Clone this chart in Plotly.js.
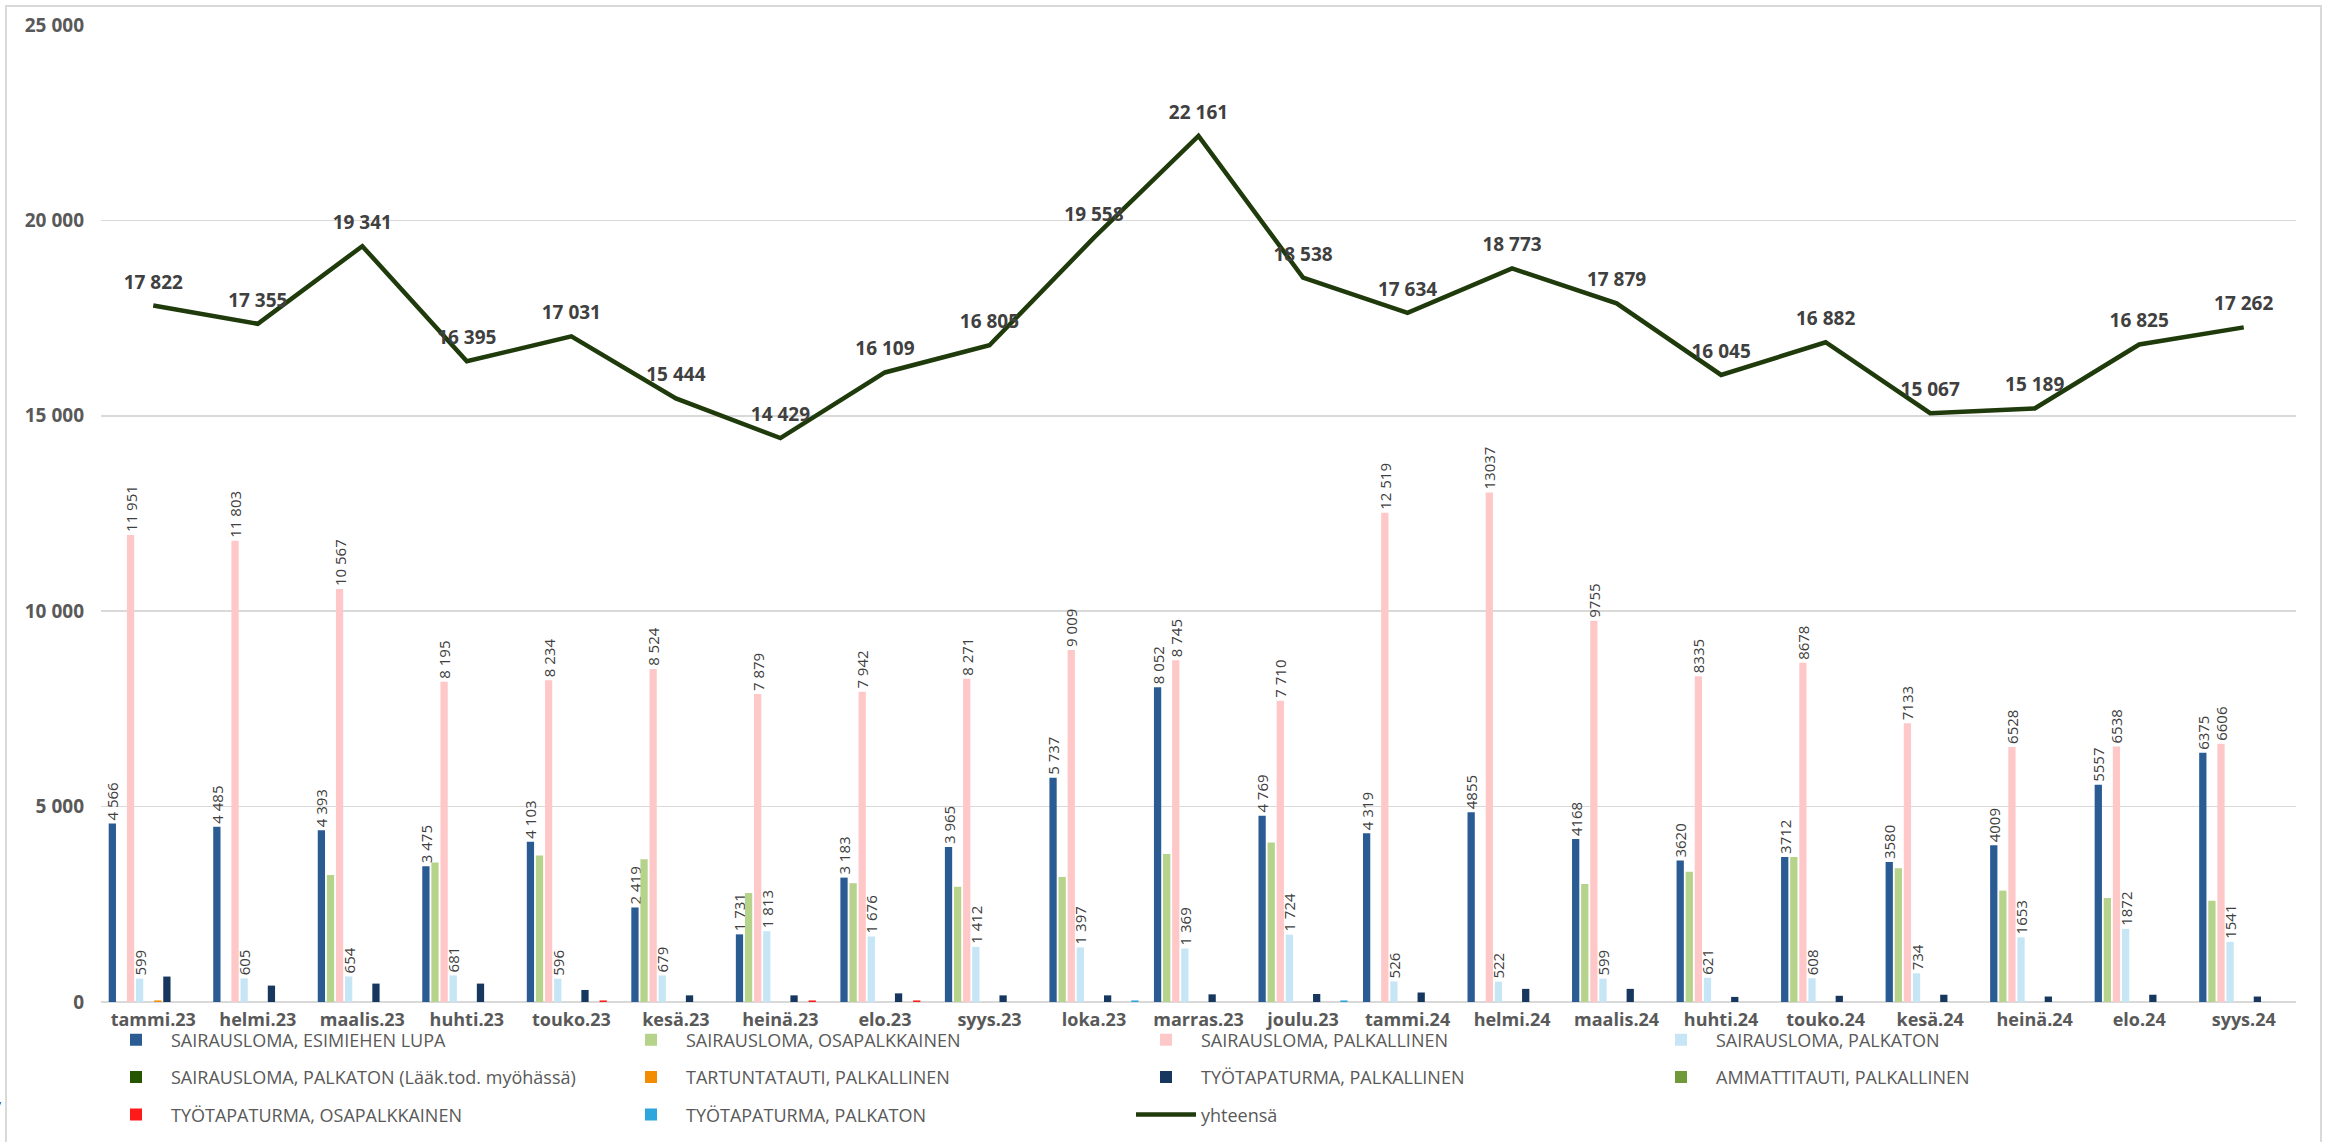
<!DOCTYPE html>
<html>
<head>
<meta charset="utf-8">
<script src="https://cdn.plot.ly/plotly-3.0.1.min.js"></script>
<style>
  html, body { margin: 0; padding: 0; background: #ffffff; }
  #wrap { position: relative; width: 2326px; height: 1142px; overflow: hidden; }
  #chart { width: 2326px; height: 1142px; }
  #frame { position: absolute; left: 5px; top: 5px; width: 2313px; height: 1160px;
           border: 2px solid #d9d9d9; pointer-events: none; }
</style>
</head>
<body>
<div id="wrap">
  <div id="chart"></div>
  <div id="frame"></div>
</div>
<script>
// ---- Data ----
const months = ['tammi.23','helmi.23','maalis.23','huhti.23','touko.23','kesä.23','heinä.23',
  'elo.23','syys.23','loka.23','marras.23','joulu.23','tammi.24','helmi.24','maalis.24',
  'huhti.24','touko.24','kesä.24','heinä.24','elo.24','syys.24'];

const esimiehenLupa = [4566,4485,4393,3475,4103,2419,1731,3183,3965,5737,8052,4769,4319,4855,4168,3620,3712,3580,4009,5557,6375];
const osapalkkainen = [0,0,3250,3570,3750,3650,2790,3040,2950,3200,3790,4080,0,0,3020,3330,3710,3420,2850,2660,2590];
const palkallinen = [11951,11803,10567,8195,8234,8524,7879,7942,8271,9009,8745,7710,12519,13037,9755,8335,8678,7133,6528,6538,6606];
const palkaton = [599,605,654,681,596,679,1813,1676,1412,1397,1369,1724,526,522,599,621,608,734,1653,1872,1541];
const palkatonLaakTod = [0,0,0,0,0,0,0,0,0,0,0,0,0,0,0,0,0,0,0,0,0];
const tartuntatauti = [40,0,0,0,0,0,0,0,0,0,0,0,0,0,0,0,0,0,0,0,0];
const tyotapaturmaPalkallinen = [651,420,471,471,308,170,170,221,170,170,196,205,243,336,336,130,159,186,140,186,140];
const ammattitauti = [0,0,0,0,0,0,0,0,0,0,0,0,0,0,0,0,0,0,0,0,0];
const tyotapaturmaOsapalkkainen = [0,0,0,0,40,0,40,40,0,0,0,0,0,0,0,0,0,0,0,0,0];
const tyotapaturmaPalkaton = [0,0,0,0,0,0,0,0,0,40,0,40,0,0,0,0,0,0,0,0,0];
const yhteensa = [17822,17355,19341,16395,17031,15444,14429,16109,16805,19558,22161,18538,17634,18773,17879,16045,16882,15067,15189,16825,17262];

// Bar labels use a space as thousands separator up to this month, none after it
const lastSpacedMonth = 'tammi.24';

// ---- Helpers ----
const spaceThousands = v => String(v).replace(/\B(?=(\d{3})+(?!\d))/g, ' ');
const lastSpacedIdx = months.indexOf(lastSpacedMonth);
const barLabels = arr => arr.map((v, i) => i <= lastSpacedIdx ? spaceThousands(v) : String(v));

const FONT = 'Open Sans, Noto Sans, sans-serif';
const labelFont = { family: FONT, size: 15, color: '#404040' };

function barTrace(name, values, color, legend, labelled) {
  const t = {
    type: 'bar', name: name, x: months, y: values,
    marker: { color: color, line: { width: 0 } },
    legend: legend, hoverinfo: 'skip'
  };
  if (labelled) {
    t.text = barLabels(values);
    t.textposition = 'outside';
    t.textangle = -90;
    t.textfont = labelFont;
    t.constraintext = 'none';
    t.cliponaxis = false;
  }
  return t;
}

const traces = [
  barTrace('SAIRAUSLOMA, ESIMIEHEN LUPA', esimiehenLupa, '#2a5b92', 'legend', true),
  barTrace('SAIRAUSLOMA, OSAPALKKAINEN', osapalkkainen, '#b5d38a', 'legend', false),
  barTrace('SAIRAUSLOMA, PALKALLINEN', palkallinen, '#ffc8c8', 'legend', true),
  barTrace('SAIRAUSLOMA, PALKATON', palkaton, '#c6e6f6', 'legend', true),
  barTrace('SAIRAUSLOMA, PALKATON (Lääk.tod. myöhässä)', palkatonLaakTod, '#265500', 'legend2', false),
  barTrace('TARTUNTATAUTI, PALKALLINEN', tartuntatauti, '#f28c00', 'legend2', false),
  barTrace('TYÖTAPATURMA, PALKALLINEN', tyotapaturmaPalkallinen, '#17375e', 'legend2', false),
  barTrace('AMMATTITAUTI, PALKALLINEN', ammattitauti, '#70993a', 'legend2', false),
  barTrace('TYÖTAPATURMA, OSAPALKKAINEN', tyotapaturmaOsapalkkainen, '#ff1a1a', 'legend3', false),
  barTrace('TYÖTAPATURMA, PALKATON', tyotapaturmaPalkaton, '#2ca6dc', 'legend3', false),
  {
    type: 'scatter', mode: 'lines+markers+text', name: 'yhteensä',
    x: months, y: yhteensa,
    line: { color: '#1f3a0b', width: 4.5 },
    marker: { size: 18, color: 'rgba(0,0,0,0)', line: { width: 0 } },
    text: yhteensa.map(spaceThousands),
    textposition: 'top center',
    textfont: { family: FONT, size: 19, color: '#404040', weight: 'bold' },
    cliponaxis: false, legend: 'legend3', hoverinfo: 'skip'
  }
];

const legendBase = {
  orientation: 'h', x: 0, xanchor: 'left', yanchor: 'middle',
  font: { family: FONT, size: 18, color: '#595959' },
  entrywidth: 440, entrywidthmode: 'pixels',
  bgcolor: 'rgba(0,0,0,0)', borderwidth: 0, itemwidth: 60,
  traceorder: 'normal', itemclick: false, itemdoubleclick: false
};

const layout = {
  width: 2326, height: 1142,
  margin: { l: 101, r: 30, t: 25, b: 140, autoexpand: false },
  paper_bgcolor: '#ffffff', plot_bgcolor: '#ffffff',
  barmode: 'group', bargap: 0.13, bargroupgap: 0.2,
  separators: ', ',
  font: { family: FONT, color: '#595959' },
  xaxis: {
    type: 'category', range: [-0.5, months.length - 0.5],
    showgrid: false, ticks: '', showline: false, zeroline: false,
    tickfont: { family: FONT, size: 18, color: '#595959', weight: 'bold' },
    ticklabelstandoff: 5
  },
  yaxis: {
    range: [0, 25000], dtick: 5000, tickformat: ',d',
    showgrid: true, gridcolor: '#d9d9d9', gridwidth: 1.5,
    zeroline: true, zerolinecolor: '#d9d9d9', zerolinewidth: 2,
    ticks: '', showline: false,
    tickfont: { family: FONT, size: 19, color: '#595959', weight: 'bold' },
    ticklabelstandoff: 16
  },
  showlegend: true,
  legend: Object.assign({}, legendBase, { y: -0.039 }),
  legend2: Object.assign({}, legendBase, { y: -0.077 }),
  legend3: Object.assign({}, legendBase, { y: -0.1155 }),
  annotations: [{
    xref: 'paper', yref: 'paper', x: -0.0442, y: -0.108, xanchor: 'right', yanchor: 'middle',
    text: '7', showarrow: false, font: { family: FONT, size: 17, color: '#2f5597' }
  }]
};

Plotly.newPlot('chart', traces, layout, { staticPlot: true, displayModeBar: false });
</script>
</body>
</html>
